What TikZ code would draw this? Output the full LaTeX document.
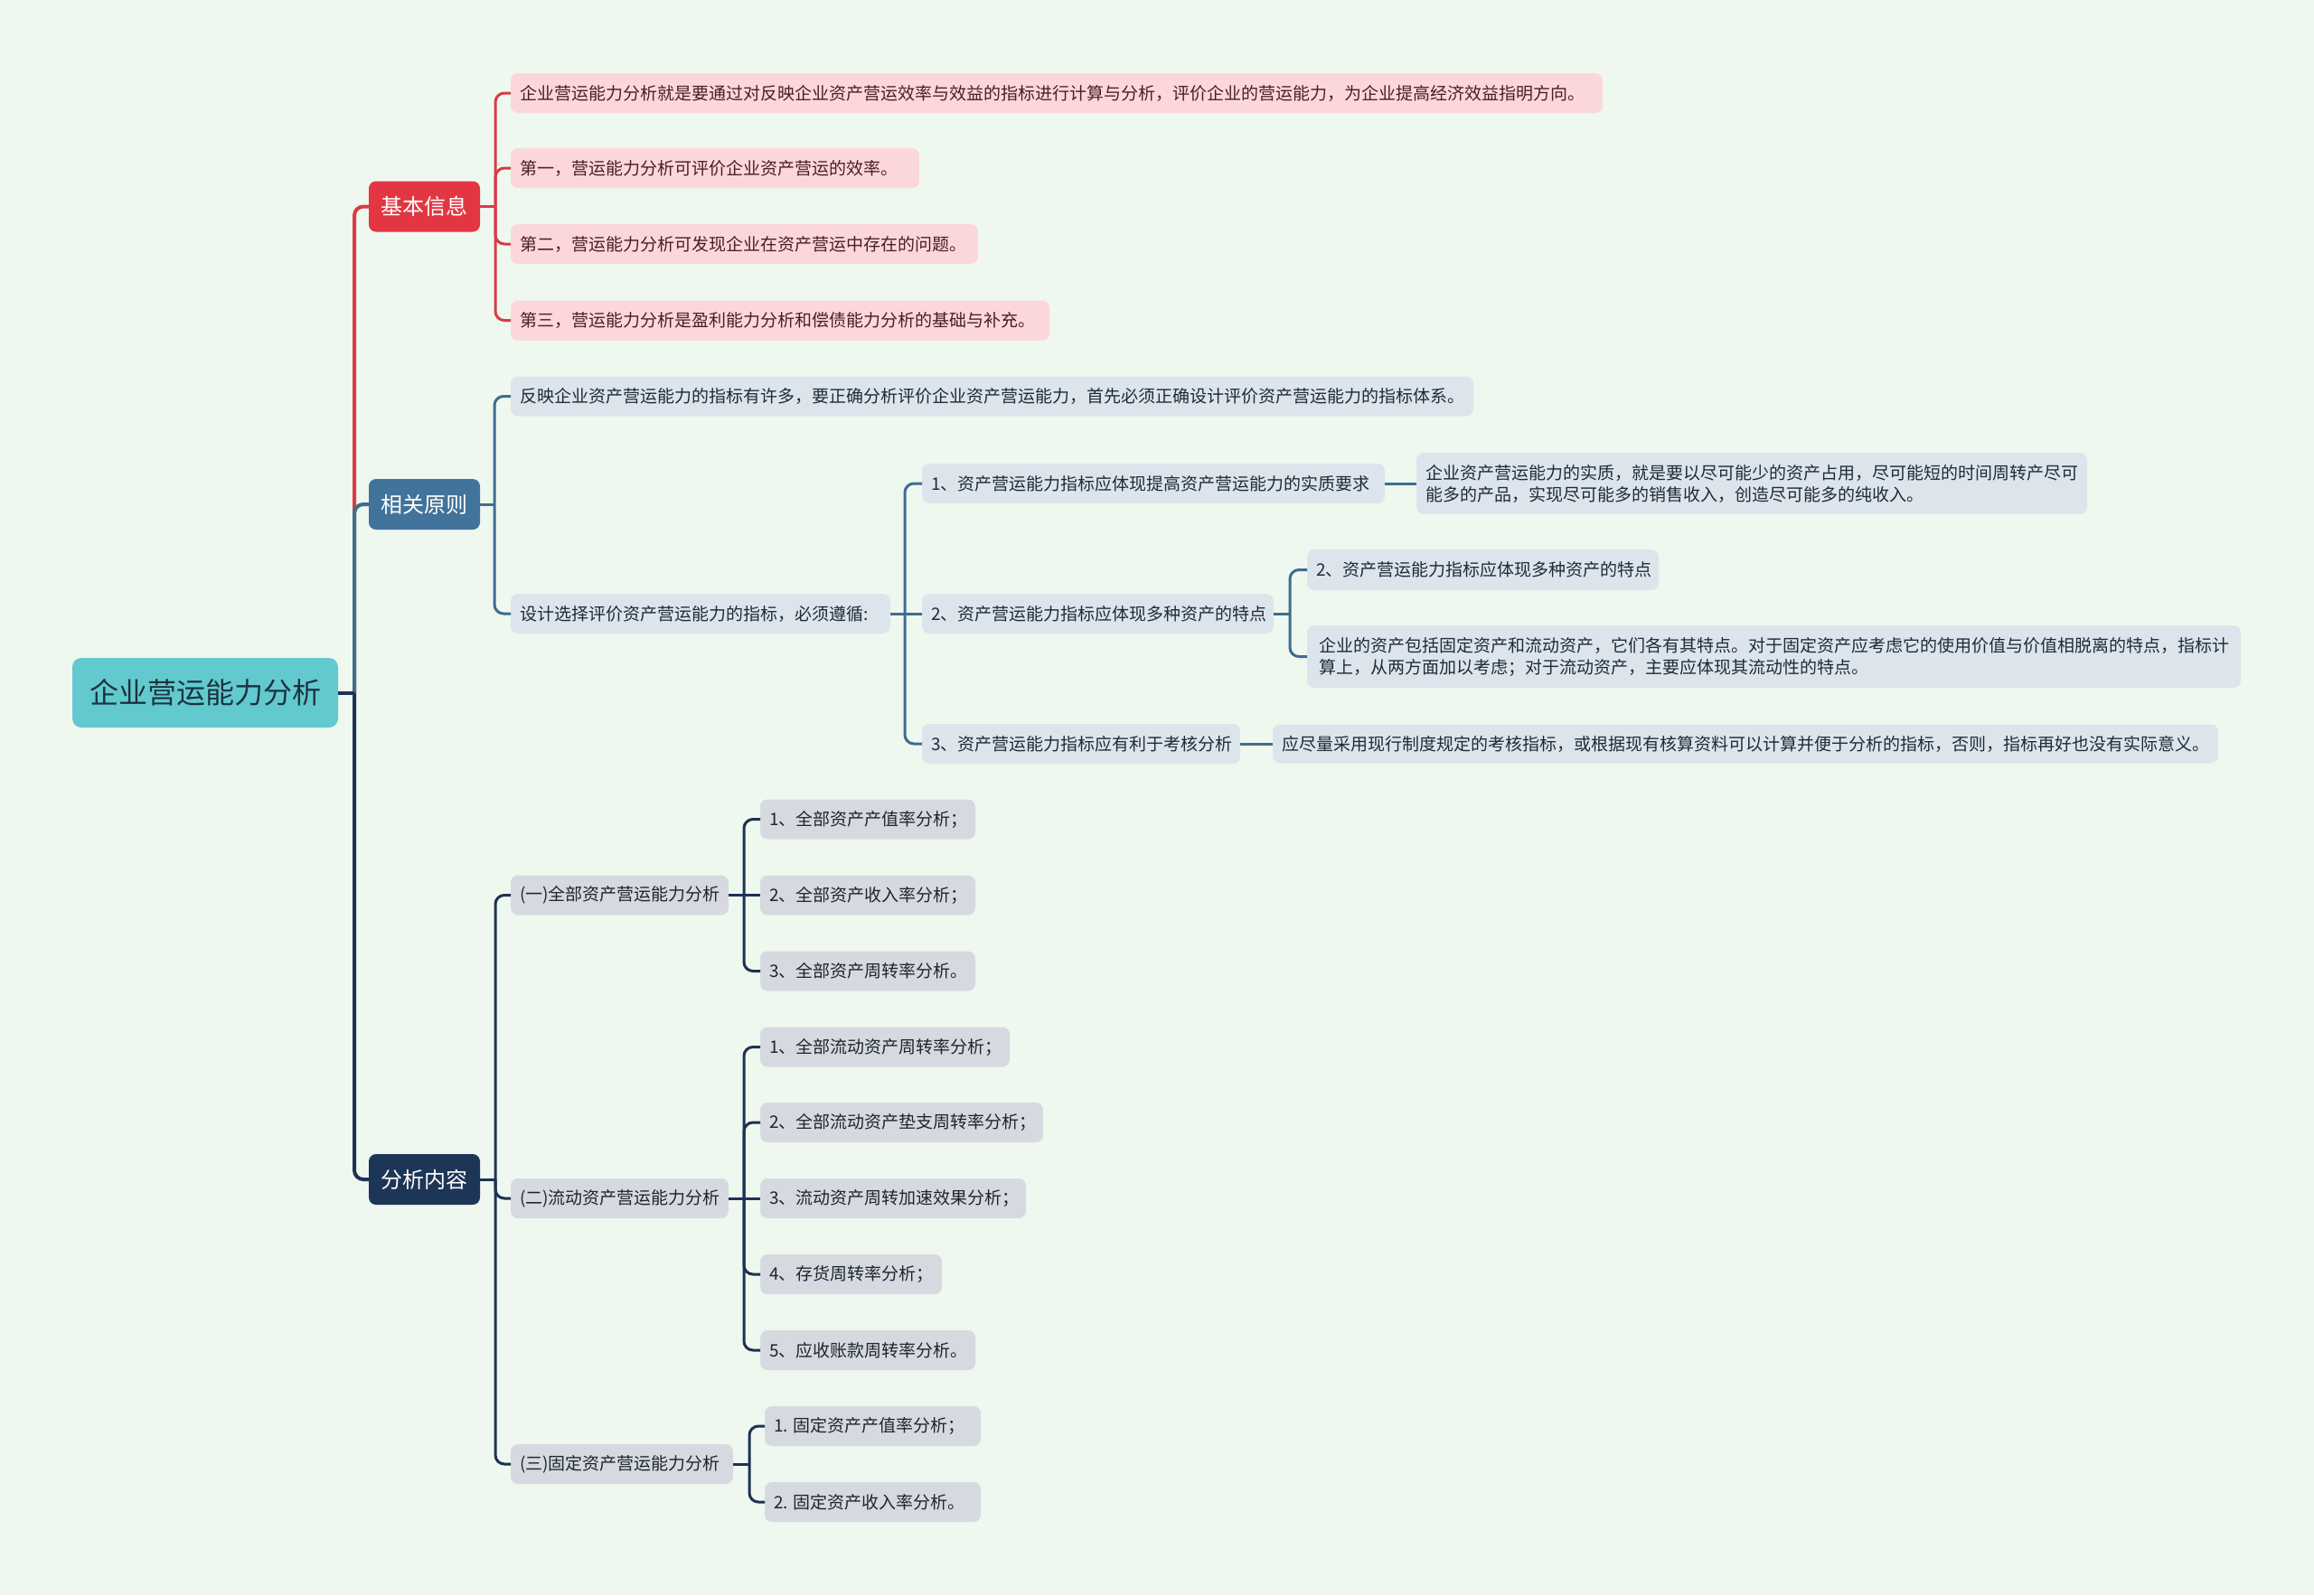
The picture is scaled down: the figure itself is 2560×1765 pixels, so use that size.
\documentclass[tikz,border=0pt]{standalone}
\usepackage{fontspec}
\setmainfont{Noto Sans CJK SC}
\definecolor{bgc}{HTML}{EFF8EE}
\definecolor{rootc}{HTML}{62CACE}
\definecolor{roott}{HTML}{1C3340}
\definecolor{redc}{HTML}{E23643}
\definecolor{redl}{HTML}{D93B47}
\definecolor{steelc}{HTML}{41739B}
\definecolor{steell}{HTML}{3E6D92}
\definecolor{navyc}{HTML}{1D3557}
\definecolor{navyl}{HTML}{1D3254}
\definecolor{pinkc}{HTML}{FBD7DC}
\definecolor{pinkt}{HTML}{4B1E21}
\definecolor{bluec}{HTML}{DDE5EC}
\definecolor{bluet}{HTML}{1E2B38}
\definecolor{grayc}{HTML}{D6DAE0}
\definecolor{grayt}{HTML}{1D2530}
\newcommand\lbox[2]{\makebox[#1][l]{#2}}
\begin{document}
\begin{tikzpicture}[x=1pt,y=-1pt,
  box/.style={draw=none, rounded corners=8pt, inner xsep=10pt, inner ysep=0pt, outer sep=0pt, anchor=west, minimum height=44pt, font=\fontsize{19}{24}\selectfont},
  pinkbox/.style={box, fill=pinkc, text=pinkt},
  bluebox/.style={box, fill=bluec, text=bluet},
  graybox/.style={box, fill=grayc, text=grayt},
  topic/.style={rounded corners=8pt, anchor=west, minimum height=56pt, minimum width=123pt, inner sep=0pt, outer sep=0pt, text=white, font=\fontsize{24}{28}\selectfont},
  conn/.style={line width=3pt},
  conn0/.style={line width=4pt},
  rc/.style={rounded corners=10pt}
]
\useasboundingbox (0,0) rectangle (2560,1765);
\fill[bgc] (0,0) rectangle (2560,1765);

% root
\node[rounded corners=10pt, anchor=west, minimum width=294pt, minimum height=77pt, inner sep=0pt, outer sep=0pt, fill=rootc, text=roott, font=\fontsize{32}{36}\selectfont] (root) at (80,766.5) {企业营运能力分析};

% level 1
\node[topic, fill=redc] (jb) at (408,228.5) {基本信息};
\node[topic, fill=steelc] (xg) at (408,558) {相关原则};
\node[topic, fill=navyc] (fx) at (408,1305) {分析内容};

% pink leaves
\node[pinkbox] (p1) at (565,103) {\lbox{1188pt}{企业营运能力分析就是要通过对反映企业资产营运效率与效益的指标进行计算与分析，评价企业的营运能力，为企业提高经济效益指明方向。}};
\node[pinkbox] (p2) at (565,186) {\lbox{432pt}{第一，营运能力分析可评价企业资产营运的效率。}};
\node[pinkbox] (p3) at (565,270) {\lbox{497pt}{第二，营运能力分析可发现企业在资产营运中存在的问题。}};
\node[pinkbox] (p4) at (565,354.5) {\lbox{576pt}{第三，营运能力分析是盈利能力分析和偿债能力分析的基础与补充。}};

% related principles
\node[bluebox] (q1) at (565,438.5) {\lbox{1045pt}{反映企业资产营运能力的指标有许多，要正确分析评价企业资产营运能力，首先必须正确设计评价资产营运能力的指标体系。}};
\node[bluebox] (q2) at (565,679) {\lbox{400pt}{设计选择评价资产营运能力的指标，必须遵循:}};
\node[bluebox] (r1) at (1020,535) {\lbox{492pt}{1、资产营运能力指标应体现提高资产营运能力的实质要求}};
\node[bluebox] (r2) at (1020,679) {\lbox{369pt}{2、资产营运能力指标应体现多种资产的特点}};
\node[bluebox] (r3) at (1020,823) {\lbox{332pt}{3、资产营运能力指标应有利于考核分析}};
\node[bluebox, minimum width=741pt, minimum height=68pt, align=left] (r1c) at (1567,535) {企业资产营运能力的实质，就是要以尽可能少的资产占用，尽可能短的时间周转产尽可\\能多的产品，实现尽可能多的销售收入，创造尽可能多的纯收入。};
\node[bluebox, minimum height=45pt] (r2a) at (1446,630.5) {\lbox{369pt}{2、资产营运能力指标应体现多种资产的特点}};
\node[bluebox, minimum width=1033pt, minimum height=69pt, align=left] (r2b) at (1446,726.5) {企业的资产包括固定资产和流动资产，它们各有其特点。对于固定资产应考虑它的使用价值与价值相脱离的特点，指标计\\算上，从两方面加以考虑；对于流动资产，主要应体现其流动性的特点。};
\node[bluebox, minimum height=43pt] (r3c) at (1408,823) {\lbox{1026pt}{应尽量采用现行制度规定的考核指标，或根据现有核算资料可以计算并便于分析的指标，否则，指标再好也没有实际意义。}};

% analysis content
\node[graybox] (s1) at (565,990.5) {\lbox{221pt}{(一)全部资产营运能力分析}};
\node[graybox] (s2) at (565,1326) {\lbox{221pt}{(二)流动资产营运能力分析}};
\node[graybox] (s3) at (565,1620) {\lbox{226pt}{(三)固定资产营运能力分析}};
\node[graybox] (s11) at (841,906.5) {\lbox{218pt}{1、全部资产产值率分析；}};
\node[graybox] (s12) at (841,990.5) {\lbox{218pt}{2、全部资产收入率分析；}};
\node[graybox] (s13) at (841,1074.5) {\lbox{218pt}{3、全部资产周转率分析。}};
\node[graybox] (s21) at (841,1158.5) {\lbox{256pt}{1、全部流动资产周转率分析；}};
\node[graybox] (s22) at (841,1242) {\lbox{293pt}{2、全部流动资产垫支周转率分析；}};
\node[graybox] (s23) at (841,1326) {\lbox{274pt}{3、流动资产周转加速效果分析；}};
\node[graybox] (s24) at (841,1410) {\lbox{181pt}{4、存货周转率分析；}};
\node[graybox] (s25) at (841,1494) {\lbox{218pt}{5、应收账款周转率分析。}};
\node[graybox] (s31) at (846,1578) {\lbox{219pt}{1. 固定资产产值率分析；}};
\node[graybox] (s32) at (846,1662) {\lbox{219pt}{2. 固定资产收入率分析。}};

% bracket points
\coordinate (rootB) at ([xshift=18pt]root.east);
\coordinate (jbB) at ([xshift=17pt]jb.east);
\coordinate (xgB) at ([xshift=16pt]xg.east);
\coordinate (fxB) at ([xshift=17pt]fx.east);
\coordinate (q2B) at ([xshift=16pt]q2.east);
\coordinate (r2B) at ([xshift=18pt]r2.east);
\coordinate (s1B) at ([xshift=17pt]s1.east);
\coordinate (s2B) at ([xshift=17pt]s2.east);
\coordinate (s3B) at ([xshift=18pt]s3.east);

% root connectors
\draw[conn0, redl, rc] (rootB) |- (jb.west);
\draw[conn0, steell, rc] (rootB) |- (xg.west);
\draw[conn0, navyl, rc] (rootB) |- (fx.west);
\draw[conn0, navyl] (root.east) -- (rootB);

% basic info
\draw[conn, redl] (jb.east) -- (jbB);
\foreach \c in {p1,p2,p3,p4} \draw[conn, redl, rc] (jbB) |- (\c.west);

% principles
\draw[conn, steell] (xg.east) -- (xgB);
\foreach \c in {q1,q2} \draw[conn, steell, rc] (xgB) |- (\c.west);
\draw[conn, steell] (q2.east) -- (q2B);
\draw[conn, steell, rc] (q2B) |- (r1.west);
\draw[conn, steell] (q2B) -- (r2.west);
\draw[conn, steell, rc] (q2B) |- (r3.west);
\draw[conn, steell] (r1.east) -- (r1c.west);
\draw[conn, steell] (r2.east) -- (r2B);
\foreach \c in {r2a,r2b} \draw[conn, steell, rc] (r2B) |- (\c.west);
\draw[conn, steell] (r3.east) -- (r3c.west);

% analysis
\draw[conn, navyl] (fx.east) -- (fxB);
\foreach \c in {s1,s2,s3} \draw[conn, navyl, rc] (fxB) |- (\c.west);
\draw[conn, navyl] (s1.east) -- (s1B);
\draw[conn, navyl, rc] (s1B) |- (s11.west);
\draw[conn, navyl] (s1B) -- (s12.west);
\draw[conn, navyl, rc] (s1B) |- (s13.west);
\draw[conn, navyl] (s2.east) -- (s2B);
\foreach \c in {s21,s22,s24,s25} \draw[conn, navyl, rc] (s2B) |- (\c.west);
\draw[conn, navyl] (s2B) -- (s23.west);
\draw[conn, navyl] (s3.east) -- (s3B);
\foreach \c in {s31,s32} \draw[conn, navyl, rc] (s3B) |- (\c.west);
\end{tikzpicture}
\end{document}
